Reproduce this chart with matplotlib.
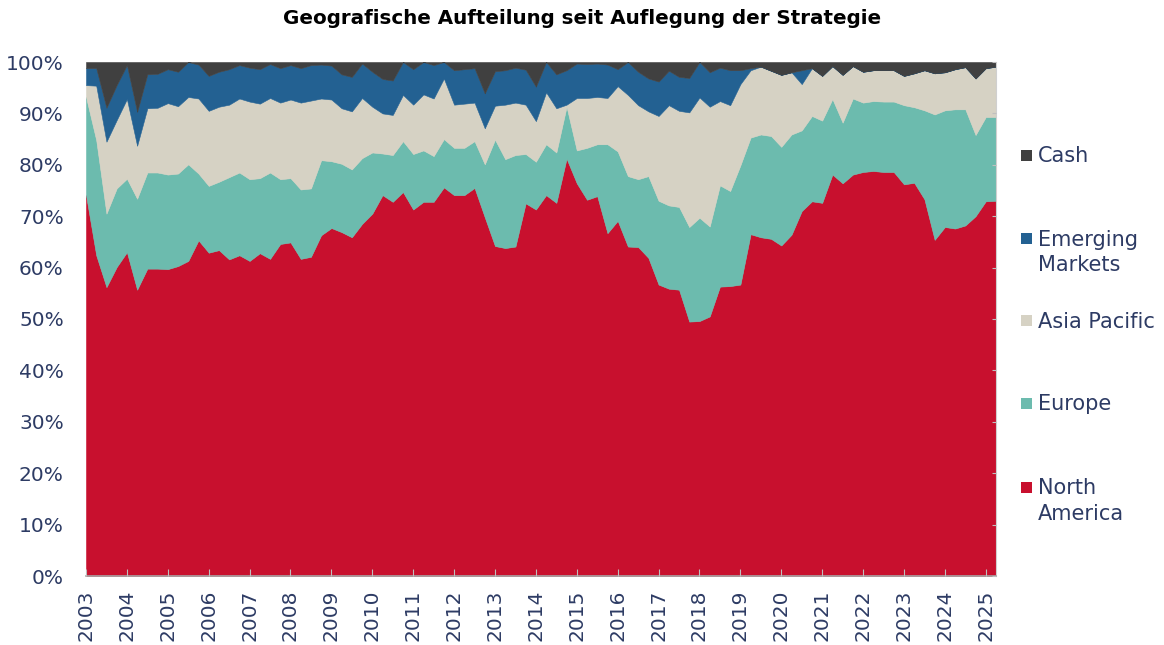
import numpy as np
import matplotlib
matplotlib.use("Agg")
import matplotlib.pyplot as plt
from matplotlib.patches import Rectangle

# Quarterly allocation in %, first quarter 2003 to second quarter 2025
north_america = [74.1, 62.4, 56.2, 60.1, 63.0, 55.7, 59.8, 59.8, 59.7, 60.3,
                 61.3, 65.3, 62.9, 63.4, 61.6, 62.4, 61.3, 62.8, 61.7, 64.6,
                 64.9, 61.7, 62.1, 66.3, 67.7, 66.9, 65.9, 68.5, 70.5, 74.1,
                 72.8, 74.7, 71.3, 72.8, 72.8, 75.6, 74.1, 74.1, 75.5, 69.8,
                 64.2, 63.8, 64.1, 72.5, 71.3, 74.1, 72.6, 81.2, 76.4, 73.2,
                 73.9, 66.7, 69.1, 64.1, 64.0, 61.9, 56.7, 55.9, 55.7, 49.5,
                 49.6, 50.5, 56.3, 56.4, 56.7, 66.5, 65.9, 65.6, 64.3, 66.4,
                 71.0, 72.9, 72.6, 78.1, 76.4, 78.1, 78.6, 78.8, 78.6, 78.6,
                 76.2, 76.5, 73.3, 65.4, 67.9, 67.6, 68.2, 70.0, 72.9, 73.0]
europe = [19.1, 22.4, 14.3, 15.3, 14.3, 17.7, 18.7, 18.7, 18.4, 18.0,
          18.8, 13.0, 13.0, 13.3, 16.0, 16.1, 15.9, 14.6, 16.8, 12.6,
          12.5, 13.5, 13.3, 14.6, 13.0, 13.3, 13.2, 12.8, 11.9, 8.1,
          9.1, 9.9, 10.8, 10.0, 8.9, 9.4, 9.2, 9.2, 9.1, 10.3,
          20.7, 17.3, 17.8, 9.6, 9.3, 9.9, 9.8, 10.1, 6.4, 10.1,
          10.1, 17.3, 13.5, 13.7, 13.2, 15.9, 16.3, 16.2, 16.1, 18.4,
          20.1, 17.5, 19.7, 18.5, 23.2, 18.8, 20.0, 20.0, 19.2, 19.5,
          15.7, 16.6, 16.0, 14.7, 11.8, 14.8, 13.5, 13.6, 13.7, 13.7,
          15.4, 14.7, 17.3, 24.4, 22.7, 23.2, 22.6, 15.8, 16.4, 16.3]
asia_pacific = [2.3, 10.6, 14.0, 13.3, 15.5, 10.3, 12.5, 12.6, 13.9, 13.1,
                13.1, 14.6, 14.6, 14.6, 14.1, 14.4, 15.1, 14.5, 14.5, 14.9,
                15.3, 16.9, 17.1, 12.0, 12.0, 10.8, 11.3, 11.7, 8.9, 7.8,
                7.8, 9.0, 9.6, 10.9, 11.2, 11.8, 8.4, 8.6, 7.5, 7.0,
                6.6, 10.6, 10.2, 9.6, 7.9, 10.1, 8.6, 0.4, 10.2, 9.7,
                9.2, 9.0, 12.7, 15.8, 14.4, 12.6, 16.5, 19.5, 18.7, 22.3,
                23.4, 23.3, 16.4, 16.7, 15.8, 13.1, 13.2, 12.7, 14.0, 12.1,
                9.0, 9.3, 8.7, 6.4, 9.3, 6.3, 6.0, 6.0, 6.1, 6.1,
                5.7, 6.6, 7.8, 8.0, 7.4, 7.8, 8.2, 11.0, 9.5, 9.8]
emerging_markets = [3.3, 3.4, 6.6, 6.8, 6.6, 6.6, 6.6, 6.6, 6.6, 6.7,
                    6.8, 6.6, 6.8, 6.8, 6.9, 6.5, 6.6, 6.7, 6.6, 6.7,
                    6.7, 6.7, 6.9, 6.6, 6.6, 6.6, 6.7, 6.7, 6.8, 6.7,
                    6.7, 6.4, 6.9, 6.3, 6.5, 3.2, 6.7, 6.7, 6.7, 6.8,
                    6.7, 6.7, 6.8, 6.8, 6.7, 5.9, 6.6, 6.7, 6.7, 6.6,
                    6.5, 6.5, 3.3, 6.4, 6.5, 6.4, 6.7, 6.7, 6.6, 6.7,
                    6.9, 6.7, 6.5, 6.8, 2.7, 0.4, 0.0, 0.0, 0.0, 0.0,
                    2.7, 0.0, 0.0, 0.0, 0.0, 0.0, 0.0, 0.0, 0.0, 0.0,
                    0.0, 0.0, 0.0, 0.0, 0.0, 0.0, 0.0, 0.0, 0.0, 0.0]
cash = [1.2, 1.2, 8.9, 4.5, 0.6, 9.7, 2.4, 2.3, 1.4, 1.9,
        0.0, 0.5, 2.7, 1.9, 1.4, 0.6, 1.1, 1.4, 0.4, 1.2,
        0.6, 1.2, 0.6, 0.5, 0.7, 2.4, 2.9, 0.3, 1.9, 3.3,
        3.6, 0.0, 1.4, 0.0, 0.6, 0.0, 1.6, 1.4, 1.2, 6.1,
        1.8, 1.6, 1.1, 1.5, 4.8, 0.0, 2.4, 1.6, 0.3, 0.4,
        0.3, 0.5, 1.4, 0.0, 1.9, 3.2, 3.8, 1.7, 2.9, 3.1,
        0.0, 2.0, 1.1, 1.6, 1.6, 1.2, 0.9, 1.7, 2.5, 2.0,
        1.6, 1.2, 2.7, 0.8, 2.5, 0.8, 1.9, 1.6, 1.6, 1.6,
        2.7, 2.2, 1.6, 2.2, 2.0, 1.4, 1.0, 3.2, 1.2, 0.9]

series_names = ["North\nAmerica", "Europe", "Asia Pacific", "Emerging\nMarkets", "Cash"]
series_colors = ["#C8102E", "#6CBBAE", "#D6D2C4", "#236192", "#404040"]
years = list(range(2003, 2026))
y_ticks = list(range(0, 101, 10))
title = "Geografische Aufteilung seit Auflegung der Strategie"

navy = "#2D3B64"
W, H = 1164, 645
fig = plt.figure(figsize=(W / 100, H / 100), dpi=100)
ax = fig.add_axes([86 / W, 1 - 576 / H, (996 - 86) / W, (576 - 62) / H])

x = 2003 + np.arange(len(north_america)) / 4.0
ax.stackplot(x, north_america, europe, asia_pacific, emerging_markets, cash,
             colors=series_colors, linewidth=0.4, edgecolor="face")

ax.set_xlim(x[0], x[-1])
ax.set_ylim(0, 100)

ax.set_yticks(y_ticks)
ax.set_yticklabels([f"{t}%" for t in y_ticks])
ax.tick_params(axis="y", which="both", left=False, right=True, direction="in",
               length=3, color="#BFBFBF", labelsize=14.5, labelcolor=navy, pad=16)
ax.set_xticks(years)
ax.set_xticklabels([str(y) for y in years], rotation=90)
ax.tick_params(axis="x", direction="in", length=5, color="#BFBFBF",
               labelsize=14.5, labelcolor=navy, pad=10)

for s in ["top", "left"]:
    ax.spines[s].set_visible(False)
ax.spines["bottom"].set_color("#A6A6A6")
ax.spines["bottom"].set_linewidth(1.2)
ax.spines["right"].set_color("#D0D0D0")
ax.spines["right"].set_linewidth(0.8)
ax.set_axisbelow(False)

fig.text(0.5, 1 - 18 / H, title, ha="center", va="center", fontsize=14.3,
         fontweight="bold", color="black")

# Legend, positioned like the reference (px from top for each series)
legend_centers = [487, 403, 320, 238, 155]
for name, col, cy in zip(series_names, series_colors, legend_centers):
    fig.add_artist(Rectangle((1021 / W, 1 - (cy + 5.5) / H), 11 / W, 11 / H,
                             transform=fig.transFigure, facecolor=col,
                             edgecolor="none"))
    for i, line in enumerate(name.split("\n")):
        fig.text(1038 / W, 1 - (cy + 7.5 + i * 25.5) / H, line, ha="left",
                 va="baseline", fontsize=15, color=navy)

fig.savefig("out.png", dpi=100)
